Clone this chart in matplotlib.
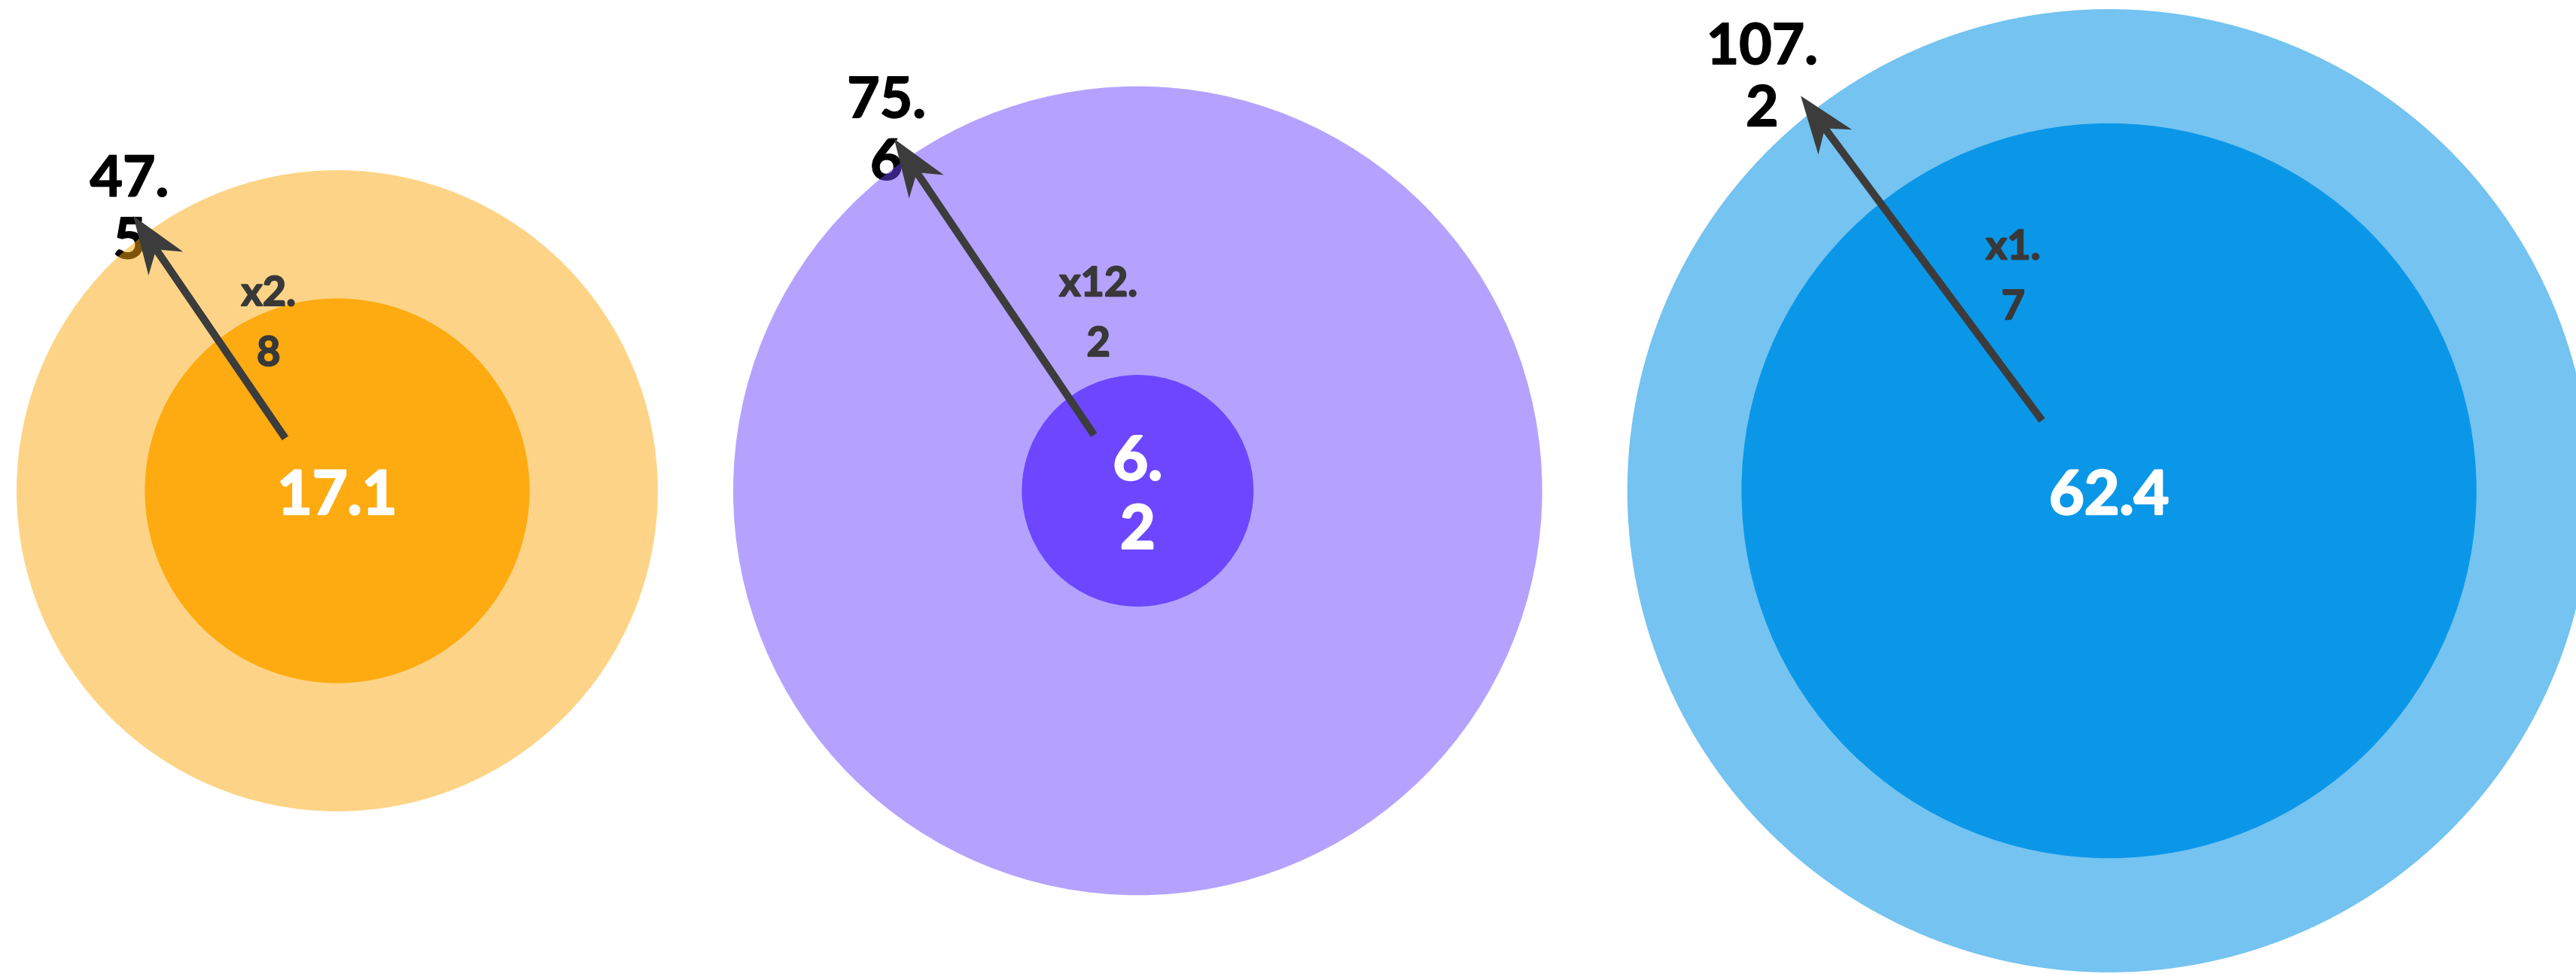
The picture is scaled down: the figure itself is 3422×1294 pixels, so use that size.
import numpy as np
import matplotlib
matplotlib.use("Agg")
import matplotlib.pyplot as plt
import matplotlib.patheffects as pe
from matplotlib.patches import Circle, Polygon

# données
outer_vals = [47.5, 75.6, 107.2]
inner_vals = [17.1, 6.2, 62.4]
colors = ["#FDAB11", "#6C47FF", "#0B97E8"]
outer_alpha = [0.5, 0.5, 0.57]

# mise en page : décalages en fraction du rayon extérieur
tip_off = [(-0.636, 0.857), (-0.602, 0.870), (-0.640, 0.820)]
tail_off = [(-0.162, 0.164), (-0.108, 0.138), (-0.139, 0.146)]
lab_off = [(-0.648, 0.890), (-0.621, 0.900), (-0.720, 0.867)]
ratio_off = [(-0.214, 0.533), (-0.097, 0.446), (-0.199, 0.451)]
gaps = [1.62, 1.83]
left = 0.356
px_per_unit = 61.8

plt.rcParams['font.family'] = ['Lato', 'DejaVu Sans']

fig = plt.figure(figsize=(34.22, 12.94), dpi=100)
ax = fig.add_axes([0, 0, 1, 1])
ax.set_xlim(0, 3422 / px_per_unit)
ax.set_ylim(-642 / px_per_unit, 652 / px_per_unit)
ax.axis('off')

R = np.sqrt(outer_vals)  # aire proportionnelle à la valeur
r = np.sqrt(inner_vals)

cx = []
x = left
for i in range(len(R)):
    x += R[i]
    cx.append(x)
    if i < len(gaps):
        x += R[i] + gaps[i]


def em_shift(fs):
    # écart entre le centre des majuscules et le centre de la boîte du texte
    return 0.1 * fs * 100 / 72 / px_per_unit


def heavy(col, w):
    # épaissit un peu le texte (pas de graisse Black disponible)
    return [pe.withStroke(linewidth=w, foreground=col)]


fs_out, fs_in, fs_ratio = 54, 58, 39
head_len, head_w, notch = 1.24, 0.45, 0.87

for i in range(len(R)):
    c = cx[i]
    # étiquette extérieure, sous le disque transparent
    lx = c + lab_off[i][0] * R[i]
    ly = lab_off[i][1] * R[i] - em_shift(fs_out)
    ax.text(lx, ly, f"{outer_vals[i]:.1f}".replace(".", ".\n"), ha='center', va='center',
            fontsize=fs_out, fontweight='bold', color='black', linespacing=1.24, zorder=1,
            path_effects=heavy('black', 1.2))

    ax.add_patch(Circle((c, 0), R[i], color=colors[i], alpha=outer_alpha[i], lw=0, zorder=2))
    ax.add_patch(Circle((c, 0), r[i], color=colors[i], lw=0, zorder=3))

    txt = f"{inner_vals[i]:.1f}"
    if r[i] < 4:
        txt = txt.replace(".", ".\n")
    ax.text(c, -em_shift(fs_in), txt, ha='center', va='center', fontsize=fs_in,
            fontweight='bold', color='white', linespacing=1.29, zorder=4,
            path_effects=heavy('white', 1.9))

    # flèche
    tail = np.array([c + tail_off[i][0] * R[i], tail_off[i][1] * R[i]])
    tip = np.array([c + tip_off[i][0] * R[i], tip_off[i][1] * R[i]])
    u = (tip - tail) / np.linalg.norm(tip - tail)
    n = np.array([-u[1], u[0]])
    base = tip - u * notch
    ax.plot([tail[0], base[0]], [tail[1], base[1]], color='#3c3c3c', lw=7.2,
            solid_capstyle='butt', zorder=5)
    head = [tip, tip - u * head_len + n * head_w, base, tip - u * head_len - n * head_w]
    ax.add_patch(Polygon(head, closed=True, color='#3c3c3c', lw=0, zorder=5))

    ratio = outer_vals[i] / inner_vals[i]
    ax.text(c + ratio_off[i][0] * R[i], ratio_off[i][1] * R[i] - em_shift(fs_ratio),
            f"x{ratio:.1f}".replace(".", ".\n"), ha='center', va='center', fontsize=fs_ratio,
            fontweight='bold', color='#383838', linespacing=1.77, zorder=6,
            path_effects=heavy('#383838', 1.4))

fig.savefig("out.png", dpi=100)
